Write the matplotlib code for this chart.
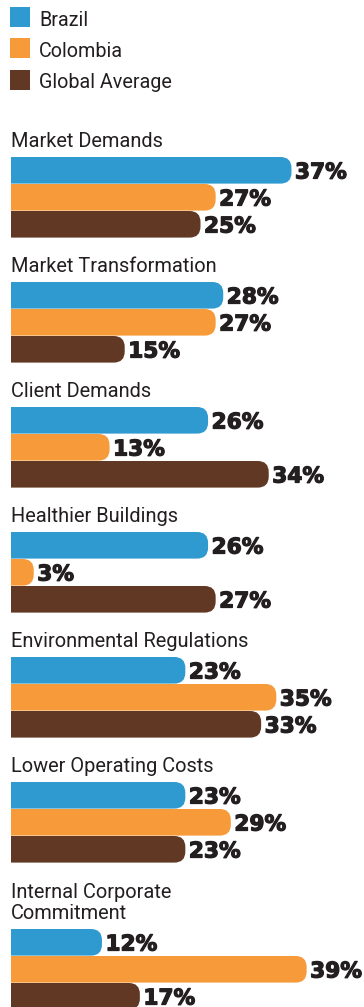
import matplotlib
matplotlib.use("Agg")
import matplotlib.pyplot as plt
import matplotlib.patheffects as pe
from matplotlib.patches import FancyBboxPatch, Rectangle

# Survey data: share of respondents citing each driver
categories = [
    "Market Demands",
    "Market Transformation",
    "Client Demands",
    "Healthier Buildings",
    "Environmental Regulations",
    "Lower Operating Costs",
    "Internal Corporate\nCommitment",
]
series_names = ["Brazil", "Colombia", "Global Average"]
brazil = [37, 28, 26, 26, 23, 23, 12]
colombia = [27, 27, 13, 3, 35, 29, 39]
global_avg = [25, 15, 34, 27, 33, 23, 17]

colors = ["#2e9ad0", "#f69a3a", "#613823"]
text_color = "#231f20"

W, H = 364, 1007
fig = plt.figure(figsize=(W / 100, H / 100), dpi=100)
ax = fig.add_axes([0, 0, 1, 1])
ax.set_axis_off()

# x in percent, y in pixel rows (top = 0)
x0_px = 11.0          # left edge of bars
px_per_pct = 7.58
ax.set_xlim(-x0_px / px_per_pct, (W - x0_px) / px_per_pct)
ax.set_ylim(H, 0)


def px_x(x):
    return (x - x0_px) / px_per_pct


label_font = dict(family=["Roboto", "DejaVu Sans"], color=text_color)
value_font = dict(family=["DejaVu Sans"], weight="bold", color=text_color)
heavy = [pe.withStroke(linewidth=0.9, foreground=text_color)]

# legend
for i, name in enumerate(series_names):
    top = 7 + 31.3 * i
    ax.add_patch(Rectangle((px_x(10), top), 20 / px_per_pct, 20,
                           facecolor=colors[i], edgecolor="none"))
    ax.text(px_x(39), top + 18.5, name, fontsize=14.2, va="baseline",
            ha="left", **label_font)

bar_h = 26.6
pitch = 27.0
radius_px = 11.0
group_top = 157.0
values = [brazil, colombia, global_avg]

for g, cat in enumerate(categories):
    extra_lines = cat.count("\n")
    if g > 0:
        group_top += 125.0 + 22.0 * extra_lines
    ax.text(px_x(11), group_top - 10, cat, fontsize=14.4, ha="left",
            va="baseline", linespacing=1.1, **label_font)
    for s in range(3):
        v = values[s][g]
        top = group_top + s * pitch
        start = -3.0
        bar = FancyBboxPatch(
            (start, top), v - start, bar_h,
            boxstyle=f"round,pad=0,rounding_size={radius_px / px_per_pct}",
            mutation_aspect=px_per_pct,
            facecolor=colors[s], edgecolor="none",
        )
        ax.add_patch(bar)
        bar.set_clip_path(Rectangle((0, top - 1), 100, bar_h + 2,
                                    transform=ax.transData))
        ax.text(v + 3.5 / px_per_pct, top + bar_h / 2 + 8.2, f"{v}%",
                fontsize=15.6, ha="left", va="baseline", path_effects=heavy,
                **value_font)

fig.savefig("out.png", dpi=100, facecolor="white")
